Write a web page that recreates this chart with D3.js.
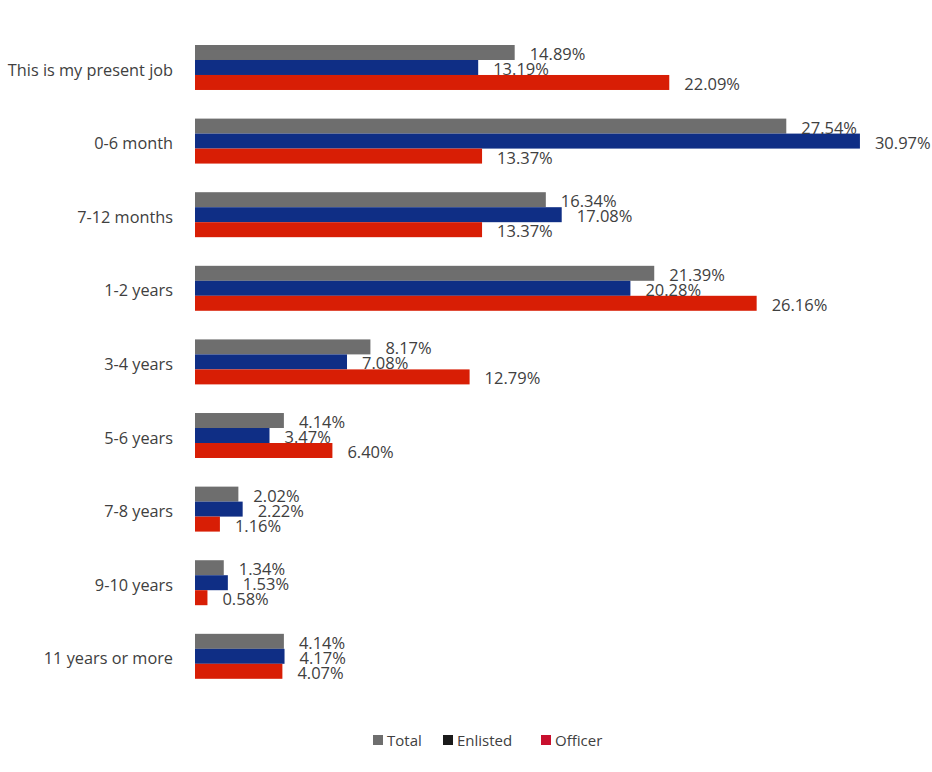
<!DOCTYPE html>
<html><head><meta charset="utf-8">
<script src="https://cdn.jsdelivr.net/npm/d3@7"></script>
<style>
html,body{margin:0;padding:0;background:#fff;}
svg{display:block;}
text{font-family:"Open Sans",sans-serif;}
</style></head>
<body>
<svg id="c" width="932" height="772"></svg>
<script>
const categories = ["This is my present job","0-6 month","7-12 months","1-2 years","3-4 years","5-6 years","7-8 years","9-10 years","11 years or more"];
const seriesNames = ["Total","Enlisted","Officer"];
const totalValues = [14.89,27.54,16.34,21.39,8.17,4.14,2.02,1.34,4.14];
const enlistedValues = [13.19,30.97,17.08,20.28,7.08,3.47,2.22,1.53,4.17];
const officerValues = [22.09,13.37,13.37,26.16,12.79,6.40,1.16,0.58,4.07];
const barColors = ["#6e6e6e","#0f2e85","#d81e05"];
const legendColors = ["#6e6e6e","#1a1a1a","#c8102e"];

const series = [totalValues, enlistedValues, officerValues];
const svg = d3.select("#c");

const x = d3.scaleLinear().domain([0,31]).range([195, 195 + 31*21.47]);
const y = d3.scaleBand().domain(categories).range([45, 678.8]).paddingInner(0.389).paddingOuter(0);
const ys = d3.scaleBand().domain(seriesNames).range([0, y.bandwidth()]);

const groups = svg.selectAll("g.grp").data(categories).enter().append("g")
  .attr("class","grp").attr("transform", d => `translate(0,${y(d)})`);

seriesNames.forEach((s, si) => {
  groups.append("rect")
    .attr("x", x(0))
    .attr("y", ys(s))
    .attr("width", (d,i) => x(series[si][i]) - x(0))
    .attr("height", ys.bandwidth())
    .attr("fill", barColors[si]);
});
seriesNames.forEach((s, si) => {
  groups.append("text")
    .attr("x", (d,i) => x(series[si][i]) + 15)
    .attr("y", ys(s) + ys.bandwidth())
    .attr("font-size", 16.5)
    .attr("fill", "#404040")
    .text((d,i) => series[si][i].toFixed(2) + "%");
});

// category labels
const yAxis = d3.axisLeft(y).tickSize(0).tickPadding(22);
const ag = svg.append("g").attr("transform", `translate(${x(0)},0)`).call(yAxis);
ag.select(".domain").remove();
ag.selectAll("text").attr("font-size", 16.3).attr("fill", "#404040")
  .attr("font-family", "'Open Sans',sans-serif").attr("dy", "0.5em");

// legend
const legendX = [373, 443, 541];
const lg = svg.append("g");
seriesNames.forEach((s, i) => {
  lg.append("rect").attr("x", legendX[i]).attr("y", 735).attr("width", 10).attr("height", 10).attr("fill", legendColors[i]);
  lg.append("text").attr("x", legendX[i] + 14).attr("y", 746).attr("font-size", 15).attr("fill", "#404040").text(s);
});
</script>
</body></html>
